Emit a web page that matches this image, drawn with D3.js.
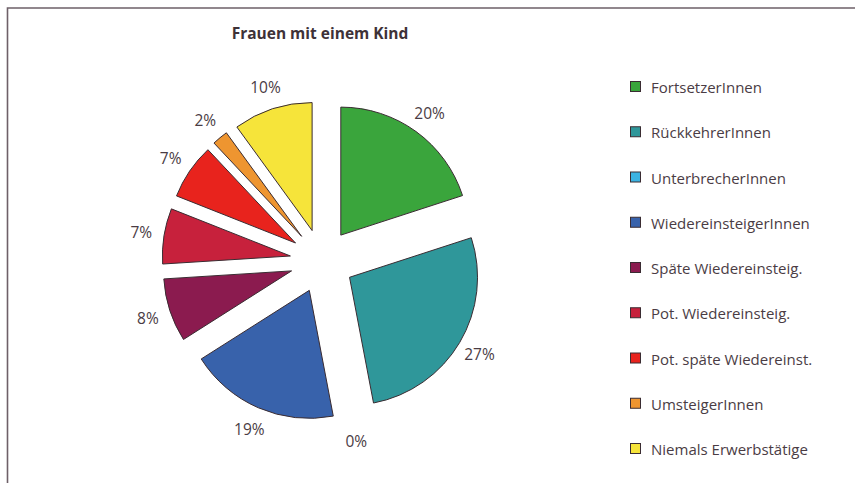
<!DOCTYPE html>
<html>
<head>
<meta charset="utf-8">
<script src="https://cdn.jsdelivr.net/npm/d3@7"></script>
<style>
  body { margin: 0; background: #fff; }
  svg { display: block; font-family: "Open Sans", "Noto Sans", sans-serif; }
</style>
</head>
<body>
<div id="chart"></div>
<script>
// data
const categories = ["FortsetzerInnen", "RückkehrerInnen", "UnterbrecherInnen",
  "WiedereinsteigerInnen", "Späte Wiedereinsteig.", "Pot. Wiedereinsteig.",
  "Pot. späte Wiedereinst.", "UmsteigerInnen", "Niemals Erwerbstätige"];
const shares = [20, 27, 0, 19, 8, 7, 7, 2, 10];
const colors = ["#3aa53c", "#2f979a", "#3cb3e2", "#3862ab", "#8b1b4f",
  "#c7213c", "#e8231d", "#ee9530", "#f6e43a"];
const title = "Frauen mit einem Kind";

const width = 855, height = 483;
const cx = 322, cy = 261;       // pie centre
const radius = 128, explode = 32, labelRadius = 183;

const svg = d3.select("#chart")
  .append("svg")
  .attr("width", width)
  .attr("height", height);

// frame (only top and left edges fall inside the picture)
svg.append("path")
  .attr("d", `M7.5,${height} V8 H${width}`)
  .attr("fill", "none")
  .attr("stroke", "#6e6068")
  .attr("stroke-width", 1.6);

svg.append("text")
  .attr("x", 320).attr("y", 33)
  .attr("text-anchor", "middle")
  .attr("dominant-baseline", "central")
  .attr("font-size", 15.5)
  .attr("font-weight", "bold")
  .attr("fill", "#3e3238")
  .text(title);

const data = categories.map((c, i) => ({ name: c, value: shares[i], color: colors[i] }));

const pie = d3.pie().sort(null).value(d => d.value);
const arcs = pie(data);

const arc = d3.arc().innerRadius(0).outerRadius(radius);
const labelArc = d3.arc().innerRadius(labelRadius).outerRadius(labelRadius);

const g = svg.append("g").attr("transform", `translate(${cx},${cy})`);

// exploded slices, each pushed out along its bisector
g.selectAll("path.slice")
  .data(arcs.filter(d => d.data.value > 0))
  .enter()
  .append("path")
    .attr("class", "slice")
    .attr("d", arc)
    .attr("transform", d => {
      const mid = (d.startAngle + d.endAngle) / 2;
      return `translate(${explode * Math.sin(mid)},${-explode * Math.cos(mid)})`;
    })
    .attr("fill", d => d.data.color)
    .attr("stroke", "#3a2c32")
    .attr("stroke-width", 1)
    .attr("stroke-linejoin", "round");

g.selectAll("text.pct")
  .data(arcs)
  .enter()
  .append("text")
    .attr("class", "pct")
    .attr("transform", d => `translate(${labelArc.centroid(d)})`)
    .attr("text-anchor", "middle")
    .attr("dominant-baseline", "central")
    .attr("font-size", 15.5)
    .attr("fill", "#4a3c44")
    .text(d => d.data.value + "%");

// legend
const legendY = d3.scalePoint()
  .domain(categories)
  .range([87, 449]);

const legend = svg.append("g");
const item = legend.selectAll("g")
  .data(data)
  .enter()
  .append("g")
    .attr("transform", d => `translate(630,${legendY(d.name)})`);

item.append("rect")
  .attr("x", 0.5).attr("y", -5.5)
  .attr("width", 10).attr("height", 10)
  .attr("fill", d => d.color)
  .attr("stroke", "#3a2c32")
  .attr("stroke-width", 1);

item.append("text")
  .attr("x", 21).attr("y", 0)
  .attr("dominant-baseline", "central")
  .attr("font-size", 15)
  .attr("fill", "#4a3c44")
  .text(d => d.name);
</script>
</body>
</html>
